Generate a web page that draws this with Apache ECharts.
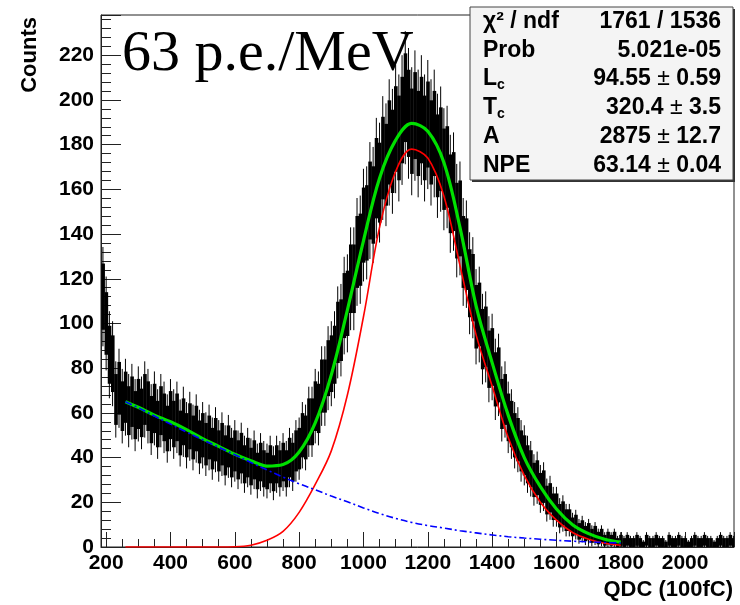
<!DOCTYPE html>
<html>
<head>
<meta charset="utf-8">
<script src="https://cdn.jsdelivr.net/npm/echarts@6/dist/echarts.min.js"></script>
<style>
  html, body { margin: 0; padding: 0; background: #fff; }
  #chart { width: 740px; height: 605px; }
</style>
</head>
<body>
<div id="chart"></div>
<script>
// histogram: counts per 10-unit bin, first bin centred at 190
var binStart = 190;
var binStep = 10;
var counts = [
    112, 100, 86, 82, 66, 71, 63, 67,
    61, 65, 59, 64, 60, 66, 63, 57, 62, 55, 61, 58, 53, 59,
    55, 58, 51, 56, 50, 54, 49, 53, 47, 50,
    46, 49, 44, 48, 43, 46, 41, 45, 40, 43,
    39, 42, 37, 40, 36, 39, 34, 38, 35, 34,
    37, 33, 37, 35, 38, 35, 40, 38, 43, 44,
    50, 49, 56, 56, 63, 62, 72, 72, 80, 82,
    86, 96, 97, 108, 109, 120, 120, 132, 133, 144,
    145, 155, 153, 165, 163, 174, 171, 181, 177, 187,
    183, 191, 201, 194, 186, 193, 185, 191, 183, 189,
    181, 185, 175, 178, 169, 170, 158, 159, 146, 147,
    132, 131, 118, 116, 103, 104, 93, 94, 84, 85,
    75, 77, 64, 66, 58, 55, 50, 48, 43, 41,
    37, 35, 30, 31, 26, 27, 21, 22, 18, 18,
    14, 15, 12, 12, 9, 10, 7, 8, 6, 7,
    5, 6, 4, 5, 3, 4, 3, 4, 2, 3,
    2, 3, 2, 2, 3, 2, 1, 3, 2, 2, 3, 2, 2, 1, 3, 2, 2, 3, 2, 2,
    1, 2, 3, 2, 2, 3, 2, 2, 1, 2, 3, 2, 2, 3, 2
];

// fit curves
var curveX = [260, 300, 350, 400, 450, 500, 550, 600, 650, 700, 750, 800, 850, 900, 950, 1000,
              1050, 1100, 1150, 1200, 1250, 1300, 1350, 1400, 1450, 1500, 1550, 1600, 1650, 1700, 1750, 1800];
var totalFit = [65, 62.5, 59, 56, 52.5, 48.5, 45, 41.5, 38.6, 36.2, 36.9, 42.5, 55.5, 77, 106, 137,
                165, 182, 189.5, 186, 172, 143, 108, 82.5, 59, 40, 27, 17, 10, 6, 3.5, 2.2];
var signalFit = [0, 0, 0, 0, 0, 0, 0, 0.1, 0.8, 3, 7, 15.5, 28, 43, 68, 103,
                 143, 168, 178, 174, 157, 126, 95, 72, 49, 32, 20, 12, 6.5, 3.5, 1.7, 0.8];
var bgFit = [65, 62.3, 58.6, 55, 51.4, 48, 44.6, 41.3, 37.8, 34.5, 31.3, 28.3, 25.6, 22.8, 20.2, 17.5,
             15, 12.8, 11, 9.6, 8.5, 7.3, 6.3, 5.4, 4.6, 4, 3.5, 3, 2.6, 2.3, 2, 1.8];

var xTicks = [200, 400, 600, 800, 1000, 1200, 1400, 1600, 1800, 2000];

var statLabels = ['χ² / ndf', 'Prob', '{b|L}{sub|c}', '{b|T}{sub|c}', 'A', 'NPE'];
var statValues = ['1761 / 1536', '5.021e-05', '94.55 ± 0.59', '320.4 ± 3.5', '2875 ± 12.7', '63.14 ± 0.04'];

var sans = 'Liberation Sans, Arial, sans-serif';

function pairs(xs, ys) {
    return xs.map(function(x, i) { return [x, ys[i]]; });
}

function histData() {
    return counts.map(function(c, i) { return [binStart + i * binStep, c]; });
}

// each bin: solid box of +-1.4 sigma plus a thin error whisker
function renderBin(params, api) {
    var x = api.value(0), c = api.value(1);
    var e = Math.sqrt(c);
    var h = binStep / 2;
    var a = api.coord([x - h, c + 1.4 * e]);
    var b = api.coord([x + h, Math.max(c - 1.4 * e, 0)]);
    var t = api.coord([x, c + 2.1 * e]);
    var u = api.coord([x, Math.max(c - 2.1 * e, 0)]);
    return {
        type: 'group',
        children: [{
            type: 'rect',
            shape: { x: a[0], y: a[1], width: b[0] - a[0] + 0.4, height: b[1] - a[1] },
            style: { fill: '#000' }
        }, {
            type: 'line',
            shape: { x1: t[0], y1: t[1], x2: u[0], y2: u[1] },
            style: { stroke: '#000', lineWidth: 1 }
        }]
    };
}

function statsGraphics() {
    var out = [];
    out.push({ type: 'rect', z: 100, shape: { x: 472, y: 9, width: 263, height: 173 }, style: { fill: '#333' } });
    out.push({ type: 'rect', z: 101, shape: { x: 470, y: 7, width: 263, height: 173 }, style: { fill: '#f4f4f4', stroke: '#444', lineWidth: 1 } });
    var rich = {
        b: { fontFamily: sans, fontWeight: 'bold', fontSize: 23, lineHeight: 26 },
        sub: { fontFamily: sans, fontWeight: 'bold', fontSize: 14, lineHeight: 14, verticalAlign: 'bottom' },
        pm: { fontFamily: sans, fontWeight: 'normal', fontSize: 23, lineHeight: 26 }
    };
    for (var i = 0; i < statLabels.length; i++) {
        var y = 21.5 + i * 28.8;
        var lab = statLabels[i].indexOf('{') === 0 ? statLabels[i] : '{b|' + statLabels[i] + '}';
        var val = statValues[i].split(' ± ');
        var valText = val.length > 1 ? '{b|' + val[0] + ' }{pm|±}{b| ' + val[1] + '}' : '{b|' + val[0] + '}';
        out.push({ type: 'text', z: 102, x: 483, y: y,
            style: { text: lab, rich: rich, fill: '#000', align: 'left', verticalAlign: 'middle' } });
        out.push({ type: 'text', z: 102, x: 721, y: y,
            style: { text: valText, rich: rich, fill: '#000', align: 'right', verticalAlign: 'middle' } });
    }
    return out;
}

var chart = echarts.init(document.getElementById('chart'), null, { renderer: 'canvas' });

var option = {
    animation: false,
    backgroundColor: '#fff',
    grid: { left: 101, right: 6, top: 15, bottom: 58, show: true, borderColor: '#222', borderWidth: 1, backgroundColor: '#fff' },
    xAxis: {
        type: 'value', min: 184, max: 2152, splitNumber: 10,
        axisLine: { lineStyle: { color: '#222', width: 1 } },
        axisTick: { inside: true, length: 15, lineStyle: { color: '#222' } },
        minorTick: { show: true, splitNumber: 4, length: 8, lineStyle: { color: '#222' } },
        splitLine: { show: false },
        axisLabel: {
            color: '#000', fontFamily: sans, fontWeight: 'bold', fontSize: 21, margin: 6,
            showMinLabel: false, showMaxLabel: false,
            formatter: function(v) { return xTicks.indexOf(v) >= 0 ? String(v) : ''; }
        }
    },
    yAxis: {
        type: 'value', min: 0, max: 238, interval: 20,
        axisLine: { show: true, lineStyle: { color: '#222', width: 1 } },
        axisTick: { show: true, inside: true, length: 20, lineStyle: { color: '#222' } },
        minorTick: { show: true, splitNumber: 5, length: 10, lineStyle: { color: '#222' } },
        splitLine: { show: false },
        axisLabel: { color: '#000', fontFamily: sans, fontWeight: 'bold', fontSize: 21, margin: 7, showMaxLabel: false }
    },
    series: [{
        type: 'custom',
        name: 'data',
        clip: true,
        renderItem: renderBin,
        data: histData(),
        z: 2
    }, {
        type: 'line', name: 'signal', data: pairs(curveX, signalFit),
        smooth: 0.35, showSymbol: false, z: 3,
        lineStyle: { color: '#ff0000', width: 1.6 }
    }, {
        type: 'line', name: 'total', data: pairs(curveX, totalFit),
        smooth: 0.35, showSymbol: false, z: 4,
        lineStyle: { color: '#00e000', width: 3.2 }
    }, {
        type: 'line', name: 'background', data: pairs(curveX, bgFit),
        smooth: 0.35, showSymbol: false, z: 5,
        lineStyle: { color: '#0000ff', width: 1.6, type: [7, 3, 2, 3] }
    }],
    graphic: [{
        type: 'text', z: 50, x: 122, y: 55,
        style: { text: '63 p.e./MeV', fill: '#000', font: '58px "Liberation Serif", "Times New Roman", serif', align: 'left', verticalAlign: 'middle' }
    }, {
        type: 'text', z: 50, x: 30, y: 17, rotation: Math.PI / 2,
        style: { text: 'Counts', fill: '#000', font: 'bold 22px ' + sans, align: 'right', verticalAlign: 'middle' }
    }, {
        type: 'text', z: 50, x: 733, y: 590,
        style: { text: 'QDC (100fC)', fill: '#000', font: 'bold 22px ' + sans, align: 'right', verticalAlign: 'middle' }
    }].concat(statsGraphics())
};

chart.setOption(option);
</script>
</body>
</html>
